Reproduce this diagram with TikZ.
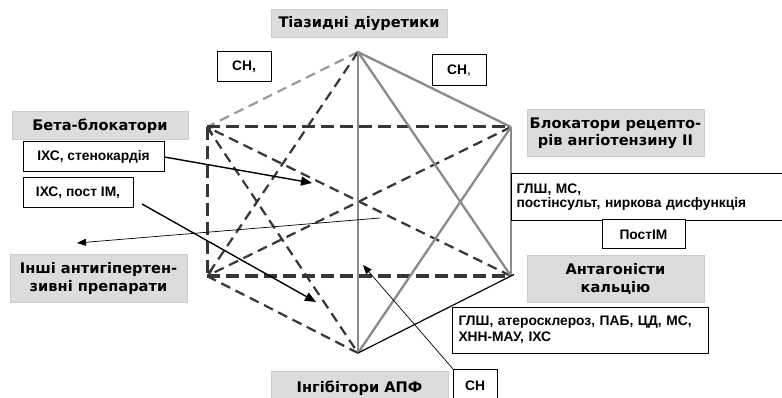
\documentclass[tikz,border=0pt]{standalone}
\usepackage{fontspec}
\setmainfont{Liberation Sans}
\newfontfamily\verd{DejaVu Sans}
\usetikzlibrary{arrows.meta,calc}
\definecolor{lblfill}{HTML}{DCDCDC}
\definecolor{lbledge}{HTML}{CDCDCD}
\definecolor{darkdash}{HTML}{363636}
\definecolor{solidgray}{HTML}{8A8A8A}
\definecolor{lightdash}{HTML}{999999}
\tikzset{
  drug/.style={fill=lblfill, draw=lbledge, line width=1pt, inner sep=0pt, align=center,
    font=\verd\bfseries\fontsize{14.6}{17.5}\selectfont},
  note/.style={fill=white, draw=black, line width=1pt, inner sep=0pt, align=center,
    font=\bfseries\fontsize{13.8}{14.5}\selectfont},
  edgethick/.style={draw=darkdash, line width=3pt, dash pattern=on 13pt off 6pt},
  edgedash/.style={draw=darkdash, line width=2.2pt, dash pattern=on 10pt off 6pt},
  edgelight/.style={draw=lightdash, line width=2.2pt, dash pattern=on 10pt off 6pt},
  edgesolid/.style={draw=solidgray, line width=2.3pt},
  edgeblack/.style={draw=black, line width=1.2pt},
  bigarrow/.style={draw=black, line width=1.4pt, -{Triangle[length=11pt,width=9pt]}},
  thinarrow/.style={draw=black, line width=0.7pt, -{Triangle[length=9pt,width=7pt]}},
  veetip/.style={-{Straight Barb[length=6pt,width=9pt]}}
}
\begin{document}
\begin{tikzpicture}[x=1pt,y=-1pt]
\clip (0,0) rectangle (782,398);
\fill[white] (0,0) rectangle (782,398);

% vertices
\coordinate (T) at (358,52);
\coordinate (UL) at (207,127);
\coordinate (UR) at (511,127);
\coordinate (LL) at (207,276);
\coordinate (LR) at (511,276);
\coordinate (B) at (358,353);

% dashed edges
\draw[edgelight] (T) -- (UL);
\draw[edgedash] (T) -- (LL);
\draw[edgedash] (UL) -- (B);
\draw[edgedash] (LL) -- (B);
\draw[edgedash, veetip] (LR) -- (UL);
\draw[edgedash, veetip] (UR) -- (LL);
\draw[edgethick] (UL) -- (UR);
\draw[edgethick] (LL) -- (LR);
\draw[edgethick] (UL) -- (LL);

% solid edges
\draw[edgesolid] (T) -- (UR);
\draw[edgesolid] (T) -- (LR);
\draw[edgesolid] (T) -- (B);
\draw[edgesolid] (UR) -- (LR);
\draw[edgesolid] (UR) -- (B);
\draw[edgeblack] (B) -- ($(B)!1.02!(LR)$);

% drug labels
\node[drug, minimum width=176pt, minimum height=28pt] (tiaz) at (359,24) {Тіазидні діуретики};
\node[drug, minimum width=176pt, minimum height=28pt] (beta) at (100,126) {Бета-блокатори};
\node[drug, minimum width=177pt, minimum height=47pt] (arb) at (615.5,133.5) {Блокатори рецепто-\\рів ангіотензину II};
\node[drug, minimum width=177pt, minimum height=47pt] (other) at (98.5,278.5) {Інші антигіпертен-\\зивні препарати};
\node[drug, minimum width=177pt, minimum height=46pt] (cca) at (615.5,279) {Антагоністи\\кальцію};
\node[drug, minimum width=177pt, minimum height=33pt, anchor=north] (acei) at (359.5,371) {Інгібітори АПФ};

% indication notes
\node[note, minimum width=54pt, minimum height=30pt] (cn1) at (244,67) {СН,};
\node[note, minimum width=54pt, minimum height=31pt] (cn2) at (459,70.5) {СН{\mdseries,}};
\node[note, minimum width=141pt, minimum height=30pt] (ixc1) at (93.5,157) {ІХС, стенокардія};
\node[note, minimum width=110pt, minimum height=30pt] (ixc2) at (78,193) {ІХС, пост ІМ,};
\node[note, minimum width=295pt, minimum height=47pt, text width=285pt, align=left, anchor=north west, inner xsep=5pt] (glsh1) at (511,173) {ГЛШ, МС,\\постінсульт, ниркова дисфункція};
\node[note, minimum width=83pt, minimum height=29pt] (postim) at (643.5,234.5) {ПостІМ};
\node[note, minimum width=256pt, minimum height=46pt, text width=243pt, align=left, inner xsep=6.5pt, font=\bfseries\fontsize{13.8}{16}\selectfont] (glsh2) at (580,330) {ГЛШ, атеросклероз, ПАБ, ЦД, МС,\\ХНН-МАУ, ІХС};
\node[note, minimum width=44pt, minimum height=34pt, anchor=north west] (cn3) at (453,369) {};
\node[font=\bfseries\fontsize{13.8}{14.5}\selectfont, anchor=center] (cn3t) at (475,386) {СН};

% arrows
\coordinate (a1) at (312,183);
\coordinate (s2) at (142,204);
\coordinate (a2) at (316,302);
\coordinate (s3) at (380,218);
\coordinate (a3) at (77,243);
\coordinate (a4) at (363,265);
\draw[bigarrow] (ixc1.east) -- (a1);
\draw[bigarrow] (s2) -- (a2);
\draw[thinarrow] (s3) -- (a3);
\draw[thinarrow] (cn3.north west) -- (a4);
\end{tikzpicture}
\end{document}
